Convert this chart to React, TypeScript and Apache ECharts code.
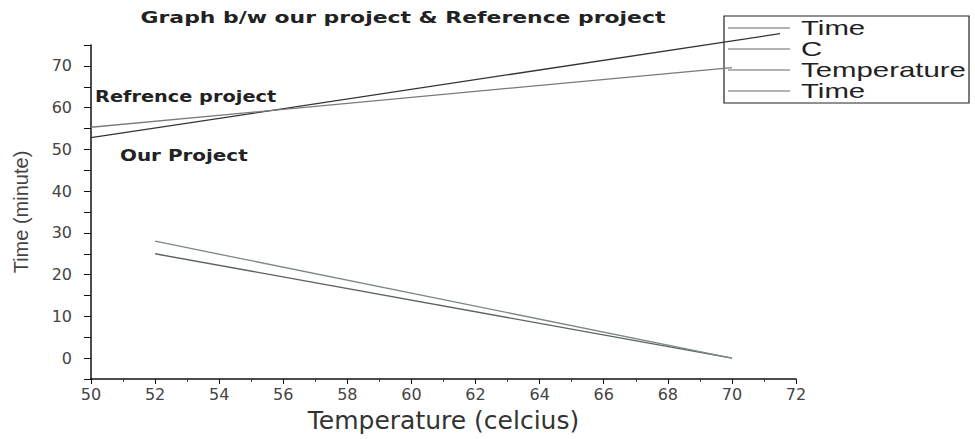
import React, { useEffect, useRef } from "react";
import * as echarts from "echarts";

// ---- data ----
const refTemp = [50, 70];
const refTime = [55.3, 69.6];
const ourTemp = [50, 71.5];
const ourTime = [52.8, 77.7];
const lowATemp = [52, 70];
const lowATime = [28, 0];
const lowBTemp = [52, 70];
const lowBTime = [25, 0];

const legendNames = ["Time", "C", "Temperature", "Time"];
const titleText = "Graph b/w our project & Reference project";
const xAxisName = "Temperature (celcius)";
const yAxisName = "Time (minute)";
const annotRef = "Refrence project";
const annotOur = "Our Project";

const pairs = (xs: number[], ys: number[]) => xs.map((x, i) => [x, ys[i]]);

export default function App() {
  const ref = useRef<HTMLDivElement>(null);
  useEffect(() => {
    if (!ref.current) return;
    const chart = echarts.init(ref.current, null, { renderer: "svg" });
    const lineColors = ["#333333", "#7a7a7a", "#5a6262", "#7c8787"];
    const legendY = [28, 49, 70, 91];
    const legendGraphics: any[] = [
      {
        type: "rect",
        shape: { x: 724, y: 16, width: 245, height: 87 },
        style: { fill: "none", stroke: "#222", lineWidth: 1.2 },
      },
    ];
    legendNames.forEach((n, i) => {
      legendGraphics.push({
        type: "line",
        shape: { x1: 728, y1: legendY[i], x2: 790, y2: legendY[i] },
        style: { stroke: "#9a9a9a", lineWidth: 1.4 },
      });
      legendGraphics.push({
        type: "text",
        x: 801,
        y: legendY[i],
        scaleX: 1.4,
        style: {
          text: n,
          fontFamily: "Liberation Sans, Arial, sans-serif",
          fontSize: 21,
          fill: "#222",
          verticalAlign: "middle",
          align: "left",
        },
      });
    });

    chart.setOption({
      animation: false,
      backgroundColor: "#fff",
      grid: { left: 91, top: 45, width: 705, height: 334 },
      xAxis: {
        type: "value",
        min: 50,
        max: 72,
        interval: 2,
        name: xAxisName,
        nameLocation: "middle",
        nameGap: 29,
        nameTextStyle: { fontFamily: "DejaVu Sans, sans-serif", fontSize: 25, color: "#333" },
        axisLine: { show: true, onZero: false, lineStyle: { color: "#111", width: 1.5 } },
        axisTick: { show: true, length: 5, lineStyle: { color: "#111" } },
        minorTick: { show: true, splitNumber: 2, length: 3, lineStyle: { color: "#444" } },
        splitLine: { show: false },
        axisLabel: { fontFamily: "DejaVu Sans, sans-serif", fontSize: 16, color: "#444", margin: 7 },
      },
      yAxis: {
        type: "value",
        min: -5,
        max: 75,
        interval: 5,
        name: yAxisName,
        nameLocation: "middle",
        nameGap: 60,
        nameTextStyle: { fontFamily: "Liberation Sans, Arial, sans-serif", fontSize: 20, color: "#444" },
        axisLine: { show: true, onZero: false, lineStyle: { color: "#111", width: 1.5 } },
        axisTick: { show: true, length: 7, lineStyle: { color: "#111" } },
        splitLine: { show: false },
        axisLabel: {
          fontFamily: "DejaVu Sans, sans-serif",
          fontSize: 16,
          color: "#444",
          margin: 19,
          formatter: (v: number) => (v % 10 === 0 ? String(v) : ""),
        },
      },
      series: [
        {
          name: legendNames[0],
          type: "line",
          data: pairs(ourTemp, ourTime),
          showSymbol: false,
          clip: false,
          lineStyle: { color: lineColors[0], width: 1.3 },
        },
        {
          name: legendNames[1],
          type: "line",
          data: pairs(refTemp, refTime),
          showSymbol: false,
          clip: false,
          lineStyle: { color: lineColors[1], width: 1.3 },
        },
        {
          name: legendNames[2],
          type: "line",
          data: pairs(lowBTemp, lowBTime),
          showSymbol: false,
          lineStyle: { color: lineColors[2], width: 1.3 },
        },
        {
          name: legendNames[3],
          type: "line",
          data: pairs(lowATemp, lowATime),
          showSymbol: false,
          lineStyle: { color: lineColors[3], width: 1.3 },
        },
      ],
      graphic: [
        {
          type: "text",
          x: 403,
          y: 18,
          scaleX: 1.37,
          style: {
            text: titleText,
            fontFamily: "DejaVu Sans, sans-serif",
            fontWeight: "bold",
            fontSize: 16,
            fill: "#222",
            align: "center",
            verticalAlign: "middle",
          },
        },
        {
          type: "text",
          x: 95,
          y: 97,
          scaleX: 1.29,
          style: {
            text: annotRef,
            fontFamily: "DejaVu Sans, sans-serif",
            fontWeight: "bold",
            fontSize: 15,
            fill: "#222",
            align: "left",
            verticalAlign: "middle",
          },
        },
        {
          type: "text",
          x: 120,
          y: 156,
          scaleX: 1.33,
          style: {
            text: annotOur,
            fontFamily: "DejaVu Sans, sans-serif",
            fontWeight: "bold",
            fontSize: 15,
            fill: "#222",
            align: "left",
            verticalAlign: "middle",
          },
        },
        ...legendGraphics,
      ],
    });
    return () => chart.dispose();
  }, []);
  return (
    <div
      ref={ref}
      style={{ position: "fixed", left: 0, top: 0, width: 975, height: 439, background: "#fff" }}
    />
  );
}
